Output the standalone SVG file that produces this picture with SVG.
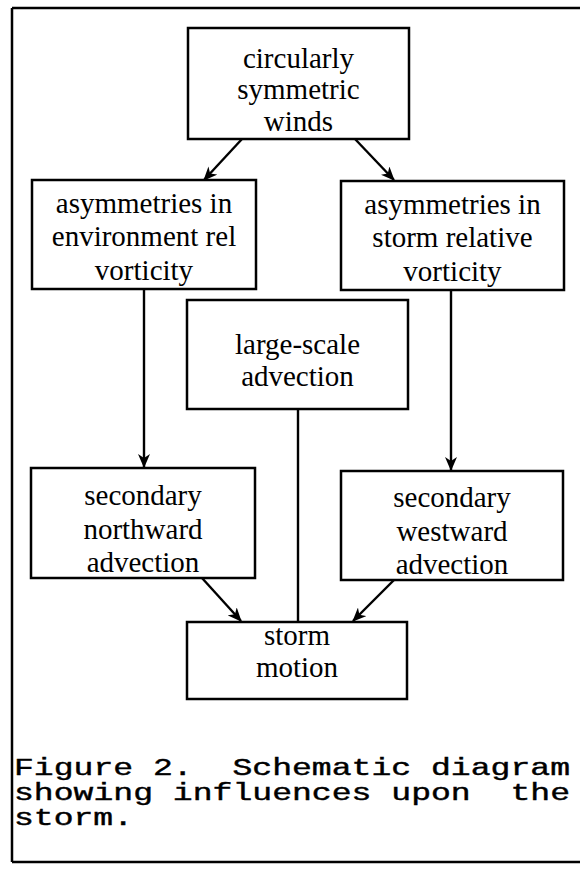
<svg xmlns="http://www.w3.org/2000/svg" width="580" height="870" viewBox="0 0 580 870">
<style>
.box{fill:#fff;stroke:#000;stroke-width:2.5}
.lbl{font-family:"Liberation Serif","Times New Roman",serif;font-size:29px;fill:#000;text-anchor:middle}
.cap{font-family:"Liberation Mono","Courier New",monospace;font-size:23px;fill:#000;stroke:#000;stroke-width:0.4;white-space:pre}
.conn{stroke:#000;stroke-width:2.4;fill:none}
.frame{stroke:#000;stroke-width:2.5;fill:none}
</style>
<defs>
<marker id="ah" viewBox="0 0 14 12" refX="13" refY="6" markerWidth="14" markerHeight="12" markerUnits="userSpaceOnUse" orient="auto">
<path d="M0,0 L14,6 L0,12 L4,6 Z" fill="#000"/>
</marker>
</defs>
<g id="frame">
<line class="frame" x1="12" y1="8" x2="580" y2="8"/>
<line class="frame" x1="12" y1="8" x2="12" y2="862"/>
<line class="frame" x1="12" y1="862" x2="580" y2="862"/>
</g>
<g id="connectors">
<line class="conn" x1="242" y1="139" x2="204" y2="180" marker-end="url(#ah)"/>
<line class="conn" x1="355" y1="139" x2="394" y2="180" marker-end="url(#ah)"/>
<line class="conn" x1="144" y1="289" x2="144" y2="467" marker-end="url(#ah)"/>
<line class="conn" x1="451" y1="290" x2="451" y2="470" marker-end="url(#ah)"/>
<line class="conn" x1="298" y1="409" x2="298" y2="622"/>
<line class="conn" x1="202" y1="578" x2="241" y2="621" marker-end="url(#ah)"/>
<line class="conn" x1="394" y1="580" x2="353" y2="621" marker-end="url(#ah)"/>
</g>
<g id="n-circular">
<rect class="box" x="188" y="28" width="221" height="111"/>
<text class="lbl" x="298.5" y="68">circularly</text>
<text class="lbl" x="298.5" y="99">symmetric</text>
<text class="lbl" x="298.5" y="131">winds</text>
</g>
<g id="n-envrel">
<rect class="box" x="32" y="180" width="224" height="109"/>
<text class="lbl" x="144" y="213">asymmetries in</text>
<text class="lbl" x="144" y="246">environment rel</text>
<text class="lbl" x="144" y="280">vorticity</text>
</g>
<g id="n-stormrel">
<rect class="box" x="341" y="181" width="223" height="109"/>
<text class="lbl" x="452.5" y="214">asymmetries in</text>
<text class="lbl" x="452.5" y="247">storm relative</text>
<text class="lbl" x="452.5" y="281">vorticity</text>
</g>
<g id="n-largescale">
<rect class="box" x="187" y="300" width="221" height="109"/>
<text class="lbl" x="297.5" y="354">large-scale</text>
<text class="lbl" x="297.5" y="386">advection</text>
</g>
<g id="n-northward">
<rect class="box" x="31" y="468" width="224" height="110"/>
<text class="lbl" x="143" y="505">secondary</text>
<text class="lbl" x="143" y="539">northward</text>
<text class="lbl" x="143" y="572">advection</text>
</g>
<g id="n-westward">
<rect class="box" x="341" y="471" width="222" height="109"/>
<text class="lbl" x="452" y="507">secondary</text>
<text class="lbl" x="452" y="541">westward</text>
<text class="lbl" x="452" y="574">advection</text>
</g>
<g id="n-storm">
<rect class="box" x="187" y="622" width="220" height="77"/>
<text class="lbl" x="297" y="645">storm</text>
<text class="lbl" x="297" y="677">motion</text>
</g>
<g id="caption">
<text class="cap" x="14" y="775" textLength="556" lengthAdjust="spacingAndGlyphs" xml:space="preserve">Figure 2.  Schematic diagram</text>
<text class="cap" x="14" y="800" textLength="556" lengthAdjust="spacingAndGlyphs" xml:space="preserve">showing influences upon  the</text>
<text class="cap" x="14" y="825" textLength="119" lengthAdjust="spacingAndGlyphs">storm.</text>
</g>
</svg>
